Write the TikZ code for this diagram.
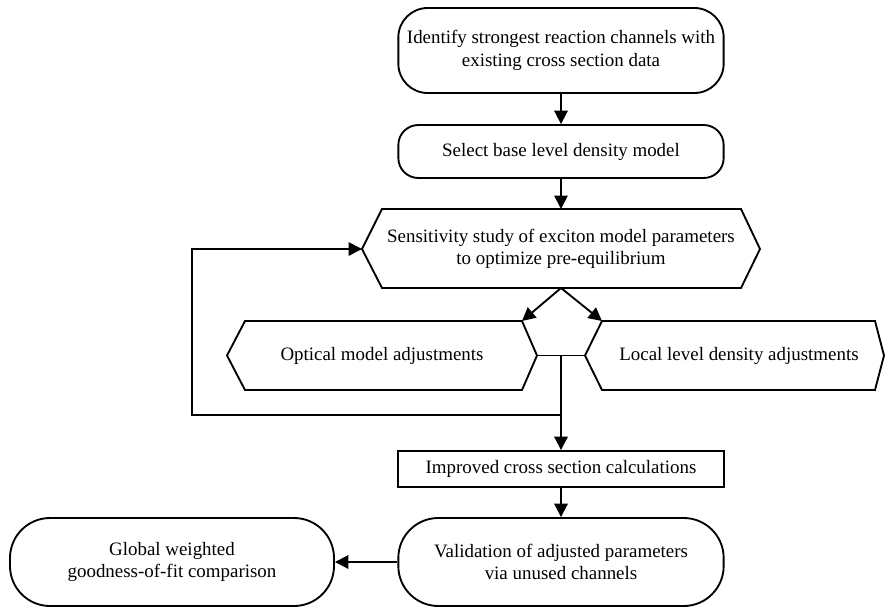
\documentclass[tikz,border=0pt]{standalone}
\usepackage{fontspec}
\setmainfont{Liberation Serif}
\usetikzlibrary{arrows.meta}

\begin{document}
\begin{tikzpicture}[x=.75pt,y=-.75pt,line width=1.4pt,
	every node/.style={font=\fontsize{14.2}{17}\selectfont,align=center},
	roundbox/.style={draw,rounded corners=#1,minimum width=244pt,inner sep=0pt},
	plainbox/.style={draw,minimum width=244pt,minimum height=27pt,inner sep=0pt},
	arr/.style={-{Triangle[length=10pt,width=10pt]}}]
\useasboundingbox (0,0) rectangle (885,607);

\node (ident) at (561,50.5) [roundbox=22pt,minimum height=63.75pt] {Identify strongest reaction channels with\\existing cross section data};
\node (select) at (561,151.5) [roundbox=15pt,minimum height=39.75pt] {Select base level density model};

\draw (362,249) coordinate (sens w) -- (382,209) -- (741,209) -- (760,249) -- (741,288) -- (382,288) -- cycle;
\coordinate (sens n) at (561,209);
\coordinate (sens s) at (561,288);
\node (sens) at (561,249) {Sensitivity study of exciton model parameters\\to optimize pre-equilibrium};

\draw (227,355.5) -- (245,321) -- (522,321) coordinate (opt ne) -- (537,355.5) coordinate (opt e) -- (522,390) -- (245,390) -- cycle;
\node (opt) at (382,355.5) {Optical model adjustments};

\draw (585,355.5) coordinate (loc w) -- (602,321) coordinate (loc nw) -- (875,321) -- (884,355.5) -- (875,390) -- (602,390) -- cycle;
\node (loc) at (739,355.5) {Local level density adjustments};

\draw (opt e) -- (loc w);
\coordinate (pent) at (561,355.5);
\coordinate (loop) at (561,415);

\node (improved) at (561,469) [plainbox] {Improved cross section calculations};
\node (valid) at (561,562) [roundbox=30pt,minimum height=66pt] {Validation of adjusted parameters\\via unused channels};
\node (global) at (172,562) [roundbox=30pt,minimum height=66pt,minimum width=243pt] {Global weighted\\goodness-of-fit comparison};

\draw[arr] (ident) -- (select);
\draw[arr] (select) -- (sens n);
\foreach \c in {opt ne,loc nw} {
	\draw[arr] (sens s) -- (\c);
	}
\draw[arr] (pent) -- (improved);
\draw[arr] (loop) -- (192,415) |- (sens w);
\draw[arr] (improved) -- (valid);
\draw[arr] (valid) -- (global);
\end{tikzpicture}
\end{document}
